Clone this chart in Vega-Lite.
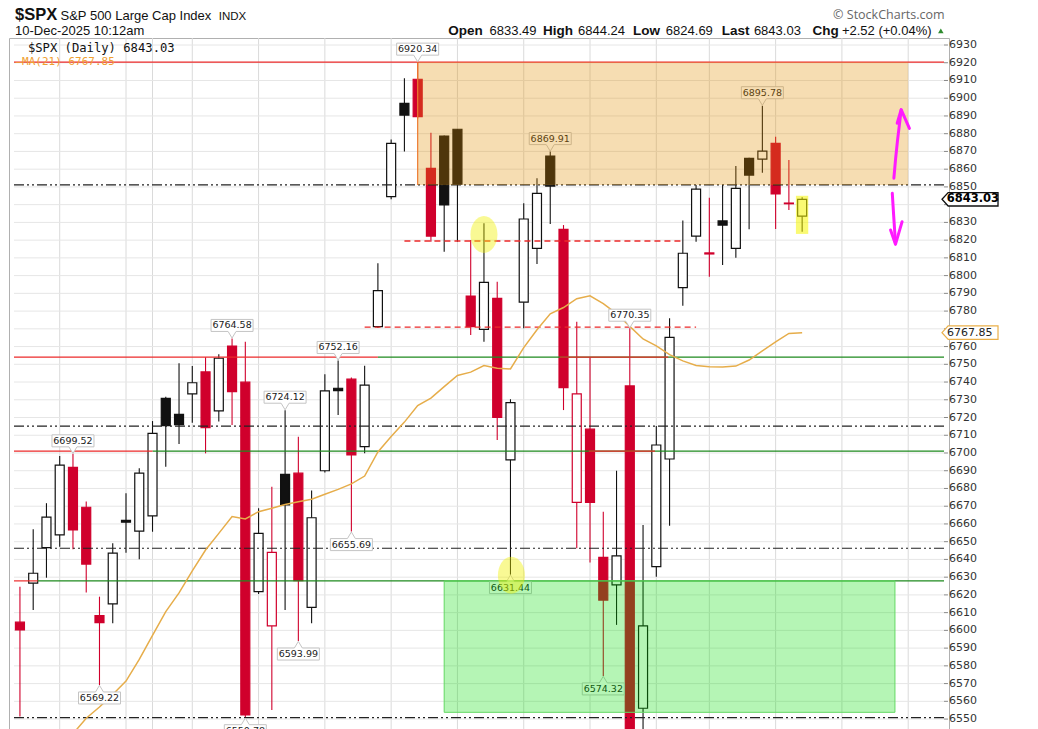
{
  "$schema": "https://vega.github.io/schema/vega-lite/v6.json",
  "width": 940,
  "height": 691,
  "autosize": {"type": "none"},
  "padding": {"left": 9, "top": 38, "right": 89, "bottom": 0},
  "background": "white",
  "config": {
    "view": {"stroke": "#b0b0b0", "strokeWidth": 1},
    "axis": {"disable": true}
  },
  "datasets": {
    "candles": [
      {"d": "2025-09-17", "i": 1, "o": 6604.6, "h": 6624.6, "l": 6551.4, "c": 6600.2},
      {"d": "2025-09-18", "i": 2, "o": 6626.6, "h": 6657.0, "l": 6611.5, "c": 6632.2},
      {"d": "2025-09-19", "i": 3, "o": 6646.6, "h": 6671.7, "l": 6629.7, "c": 6663.8},
      {"d": "2025-09-22", "i": 4, "o": 6653.8, "h": 6698.3, "l": 6647.2, "c": 6693.2, "ma": 6533.0},
      {"d": "2025-09-23", "i": 5, "o": 6691.9, "h": 6699.52, "l": 6645.7, "c": 6656.6, "ma": 6541.7},
      {"d": "2025-09-24", "i": 6, "o": 6669.4, "h": 6672.6, "l": 6621.3, "c": 6637.4, "ma": 6550.5},
      {"d": "2025-09-25", "i": 7, "o": 6608.3, "h": 6619.0, "l": 6569.22, "c": 6604.4, "ma": 6556.8},
      {"d": "2025-09-26", "i": 8, "o": 6614.9, "h": 6649.1, "l": 6604.0, "c": 6643.5, "ma": 6563.9},
      {"d": "2025-09-29", "i": 9, "o": 6662.0, "h": 6677.3, "l": 6643.8, "c": 6661.0, "ma": 6571.4},
      {"d": "2025-09-30", "i": 10, "o": 6656.0, "h": 6691.4, "l": 6640.1, "c": 6688.6, "ma": 6583.6},
      {"d": "2025-10-01", "i": 11, "o": 6664.5, "h": 6718.0, "l": 6655.6, "c": 6711.1, "ma": 6597.2},
      {"d": "2025-10-02", "i": 12, "o": 6730.8, "h": 6731.7, "l": 6692.3, "c": 6715.4, "ma": 6610.6},
      {"d": "2025-10-03", "i": 13, "o": 6721.8, "h": 6750.6, "l": 6705.1, "c": 6716.0, "ma": 6621.1},
      {"d": "2025-10-06", "i": 14, "o": 6733.3, "h": 6749.0, "l": 6717.1, "c": 6739.6, "ma": 6633.5},
      {"d": "2025-10-07", "i": 15, "o": 6745.7, "h": 6754.0, "l": 6699.8, "c": 6714.3, "ma": 6645.3},
      {"d": "2025-10-08", "i": 16, "o": 6723.7, "h": 6755.6, "l": 6717.7, "c": 6753.4, "ma": 6654.7},
      {"d": "2025-10-09", "i": 17, "o": 6760.3, "h": 6764.58, "l": 6715.8, "c": 6734.6, "ma": 6664.2},
      {"d": "2025-10-10", "i": 18, "o": 6739.9, "h": 6762.7, "l": 6550.78, "c": 6552.3, "ma": 6662.8},
      {"d": "2025-10-13", "i": 19, "o": 6621.8, "h": 6668.8, "l": 6620.5, "c": 6654.7, "ma": 6666.9},
      {"d": "2025-10-14", "i": 20, "o": 6602.5, "h": 6681.0, "l": 6555.1, "c": 6644.0, "ma": 6668.9},
      {"d": "2025-10-15", "i": 21, "o": 6688.0, "h": 6724.12, "l": 6611.5, "c": 6670.7, "ma": 6671.0},
      {"d": "2025-10-16", "i": 22, "o": 6688.6, "h": 6709.2, "l": 6593.99, "c": 6628.0, "ma": 6672.5},
      {"d": "2025-10-17", "i": 23, "o": 6613.0, "h": 6678.8, "l": 6604.0, "c": 6663.5, "ma": 6673.9},
      {"d": "2025-10-20", "i": 24, "o": 6690.0, "h": 6744.4, "l": 6689.0, "c": 6735.0, "ma": 6676.7},
      {"d": "2025-10-21", "i": 25, "o": 6736.5, "h": 6752.16, "l": 6721.4, "c": 6735.2, "ma": 6679.5},
      {"d": "2025-10-22", "i": 26, "o": 6741.6, "h": 6742.5, "l": 6655.69, "c": 6698.9, "ma": 6682.6},
      {"d": "2025-10-23", "i": 27, "o": 6703.6, "h": 6749.2, "l": 6699.8, "c": 6738.3, "ma": 6687.0},
      {"d": "2025-10-24", "i": 28, "o": 6771.2, "h": 6806.9, "l": 6770.5, "c": 6791.5, "ma": 6700.6},
      {"d": "2025-10-27", "i": 29, "o": 6844.5, "h": 6876.8, "l": 6843.0, "c": 6874.6, "ma": 6709.3},
      {"d": "2025-10-28", "i": 30, "o": 6897.1, "h": 6911.2, "l": 6869.9, "c": 6890.5, "ma": 6717.4},
      {"d": "2025-10-29", "i": 31, "o": 6910.7, "h": 6920.34, "l": 6888.6, "c": 6889.6, "ma": 6726.7},
      {"d": "2025-10-30", "i": 32, "o": 6860.5, "h": 6880.6, "l": 6819.1, "c": 6822.3, "ma": 6730.9},
      {"d": "2025-10-31", "i": 33, "o": 6878.7, "h": 6879.0, "l": 6813.5, "c": 6839.8, "ma": 6737.4},
      {"d": "2025-11-03", "i": 34, "o": 6882.5, "h": 6882.6, "l": 6819.1, "c": 6851.5, "ma": 6743.7},
      {"d": "2025-11-04", "i": 35, "o": 6788.5, "h": 6820.1, "l": 6766.5, "c": 6771.2, "ma": 6745.6},
      {"d": "2025-11-05", "i": 36, "o": 6769.7, "h": 6829.5, "l": 6762.7, "c": 6796.2, "ma": 6749.3},
      {"d": "2025-11-06", "i": 37, "o": 6787.2, "h": 6796.6, "l": 6707.3, "c": 6720.1, "ma": 6747.8},
      {"d": "2025-11-07", "i": 38, "o": 6696.1, "h": 6730.3, "l": 6631.44, "c": 6728.4, "ma": 6747.4},
      {"d": "2025-11-10", "i": 39, "o": 6785.0, "h": 6840.8, "l": 6770.3, "c": 6831.9, "ma": 6759.4},
      {"d": "2025-11-11", "i": 40, "o": 6815.4, "h": 6854.9, "l": 6806.5, "c": 6846.4, "ma": 6769.5},
      {"d": "2025-11-12", "i": 41, "o": 6867.4, "h": 6869.91, "l": 6829.1, "c": 6850.5, "ma": 6778.5},
      {"d": "2025-11-13", "i": 42, "o": 6826.1, "h": 6828.5, "l": 6724.2, "c": 6736.8, "ma": 6782.0},
      {"d": "2025-11-14", "i": 43, "o": 6672.2, "h": 6774.0, "l": 6646.3, "c": 6733.3, "ma": 6787.0},
      {"d": "2025-11-17", "i": 44, "o": 6713.4, "h": 6754.0, "l": 6638.2, "c": 6672.2, "ma": 6788.6},
      {"d": "2025-11-18", "i": 45, "o": 6641.2, "h": 6666.9, "l": 6574.32, "c": 6617.1, "ma": 6784.2},
      {"d": "2025-11-19", "i": 46, "o": 6625.6, "h": 6690.0, "l": 6603.1, "c": 6642.0, "ma": 6778.6},
      {"d": "2025-11-20", "i": 47, "o": 6737.8, "h": 6770.35, "l": 6535.2, "c": 6538.8, "ma": 6771.4},
      {"d": "2025-11-21", "i": 48, "o": 6556.1, "h": 6659.4, "l": 6521.9, "c": 6602.5, "ma": 6764.3},
      {"d": "2025-11-24", "i": 49, "o": 6635.9, "h": 6715.2, "l": 6630.3, "c": 6704.5, "ma": 6760.4},
      {"d": "2025-11-25", "i": 50, "o": 6696.6, "h": 6775.9, "l": 6659.0, "c": 6765.2, "ma": 6755.4},
      {"d": "2025-11-26", "i": 51, "o": 6793.2, "h": 6831.0, "l": 6783.0, "c": 6812.6, "ma": 6751.9},
      {"d": "2025-11-28", "i": 52, "o": 6822.3, "h": 6851.1, "l": 6819.1, "c": 6848.7, "ma": 6749.3},
      {"d": "2025-12-01", "i": 53, "o": 6812.8, "h": 6843.9, "l": 6799.4, "c": 6812.2, "ma": 6748.6},
      {"d": "2025-12-02", "i": 54, "o": 6830.8, "h": 6851.1, "l": 6806.0, "c": 6828.5, "ma": 6748.5},
      {"d": "2025-12-03", "i": 55, "o": 6815.4, "h": 6861.8, "l": 6810.1, "c": 6849.2, "ma": 6749.0},
      {"d": "2025-12-04", "i": 56, "o": 6866.1, "h": 6866.5, "l": 6826.1, "c": 6856.7, "ma": 6752.4},
      {"d": "2025-12-05", "i": 57, "o": 6865.7, "h": 6895.78, "l": 6858.0, "c": 6870.2, "ma": 6757.5},
      {"d": "2025-12-08", "i": 58, "o": 6874.6, "h": 6878.3, "l": 6826.3, "c": 6846.0, "ma": 6762.6},
      {"d": "2025-12-09", "i": 59, "o": 6840.9, "h": 6865.2, "l": 6837.0, "c": 6840.51, "ma": 6767.4},
      {"d": "2025-12-10", "i": 60, "o": 6833.49, "h": 6844.24, "l": 6824.69, "c": 6843.03, "ma": 6767.85}
    ],
    "yticks": [
      {"v": 6550}, {"v": 6560}, {"v": 6570}, {"v": 6580}, {"v": 6590}, {"v": 6600}, {"v": 6610}, {"v": 6620}, {"v": 6630}, {"v": 6640},
      {"v": 6650}, {"v": 6660}, {"v": 6670}, {"v": 6680}, {"v": 6690}, {"v": 6700}, {"v": 6710}, {"v": 6720}, {"v": 6730}, {"v": 6740},
      {"v": 6750}, {"v": 6760}, {"v": 6770}, {"v": 6780}, {"v": 6790}, {"v": 6800}, {"v": 6810}, {"v": 6820}, {"v": 6830}, {"v": 6840},
      {"v": 6850}, {"v": 6860}, {"v": 6870}, {"v": 6880}, {"v": 6890}, {"v": 6900}, {"v": 6910}, {"v": 6920}, {"v": 6930}
    ],
    "xgrid": [
      {"i": 4}, {"i": 9}, {"i": 11}, {"i": 14}, {"i": 19}, {"i": 24}, {"i": 29}, {"i": 34}, {"i": 39}, {"i": 44}, {"i": 49}, {"i": 53}, {"i": 58}, {"i": 63}, {"i": 68}
    ],
    "hlines": [
      {"kind": "support", "v": 6754.0, "i1": 28.0, "i2": 70.7},
      {"kind": "support", "v": 6701.1, "i1": 11.0, "i2": 70.7},
      {"kind": "support", "v": 6627.9, "i1": 2.35, "i2": 70.7},
      {"kind": "resistance", "v": 6920.34, "i1": 0.552, "i2": 70.7},
      {"kind": "resistance", "v": 6754.0, "i1": 0.552, "i2": 28.0},
      {"kind": "resistance", "v": 6754.0, "i1": 41.7, "i2": 49.9},
      {"kind": "resistance", "v": 6701.1, "i1": 0.552, "i2": 11.0},
      {"kind": "resistance", "v": 6701.1, "i1": 43.9, "i2": 48.9},
      {"kind": "resistance", "v": 6627.9, "i1": 0.552, "i2": 2.35},
      {"kind": "pivot", "v": 6851.1, "i1": 0.552, "i2": 70.7},
      {"kind": "pivot", "v": 6715.2, "i1": 0.552, "i2": 70.7},
      {"kind": "pivot", "v": 6646.3, "i1": 0.552, "i2": 70.7},
      {"kind": "pivot", "v": 6550.8, "i1": 0.552, "i2": 70.7},
      {"kind": "level", "v": 6819.5, "i1": 30.0, "i2": 51.0},
      {"kind": "level", "v": 6770.9, "i1": 27.0, "i2": 52.0}
    ],
    "zones": [
      {"kind": "orange", "i1": 31, "i2": 68, "v1": 6851.1, "v2": 6920.34},
      {"kind": "green", "i1": 33, "i2": 67, "v1": 6553.8, "v2": 6627.9}
    ],
    "plabels": [
      {"i": 5, "p": 6699.52, "pos": "above"},
      {"i": 17, "p": 6764.58, "pos": "above"},
      {"i": 21, "p": 6724.12, "pos": "above"},
      {"i": 25, "p": 6752.16, "pos": "above"},
      {"i": 31, "p": 6920.34, "pos": "above"},
      {"i": 41, "p": 6869.91, "pos": "above"},
      {"i": 47, "p": 6770.35, "pos": "above"},
      {"i": 57, "p": 6895.78, "pos": "above"},
      {"i": 7, "p": 6569.22, "pos": "below"},
      {"i": 18, "p": 6550.78, "pos": "below"},
      {"i": 22, "p": 6593.99, "pos": "below"},
      {"i": 26, "p": 6655.69, "pos": "below"},
      {"i": 38, "p": 6631.44, "pos": "below"},
      {"i": 45, "p": 6574.32, "pos": "below"}
    ],
    "arrows": [
      {"seg": "up", "ord": 1, "i": 66.92, "v": 6854.9},
      {"seg": "up", "ord": 2, "i": 67.05, "v": 6866.0},
      {"seg": "up", "ord": 3, "i": 67.19, "v": 6876.0},
      {"seg": "up", "ord": 4, "i": 67.47, "v": 6893.4},
      {"seg": "uphead", "ord": 1, "i": 67.17, "v": 6885.9},
      {"seg": "uphead", "ord": 2, "i": 67.47, "v": 6893.6},
      {"seg": "uphead", "ord": 3, "i": 68.09, "v": 6883.0},
      {"seg": "down", "ord": 1, "i": 66.8, "v": 6846.4},
      {"seg": "down", "ord": 2, "i": 66.9, "v": 6834.2},
      {"seg": "down", "ord": 3, "i": 67.04, "v": 6818.4},
      {"seg": "downhead", "ord": 1, "i": 66.67, "v": 6825.7},
      {"seg": "downhead", "ord": 2, "i": 67.04, "v": 6817.6},
      {"seg": "downhead", "ord": 3, "i": 67.54, "v": 6830.4}
    ],
    "tags": [
      {"kind": "last", "p": 6843.03},
      {"kind": "ma", "p": 6767.85}
    ]
  },
  "layer": [
    {
      "data": {"name": "xgrid"},
      "mark": {"type": "rule", "color": "#dadada", "strokeWidth": 1},
      "encoding": {
        "x": {"field": "i", "type": "quantitative", "scale": {"domain": [0.552, 70.7], "nice": false, "zero": false}},
        "y": {"datum": 6544.4, "type": "quantitative", "scale": {"domain": [6544.4, 6933.95], "nice": false, "zero": false}},
        "y2": {"datum": 6933.95}
      }
    },
    {
      "data": {"name": "yticks"},
      "mark": {"type": "rule", "color": "#e6e6e6", "strokeWidth": 1},
      "encoding": {
        "x": {"datum": 0.552, "type": "quantitative"},
        "x2": {"datum": 70.7},
        "y": {"field": "v", "type": "quantitative"}
      }
    },
    {
      "data": {"name": "candles"},
      "transform": [
        {"window": [{"op": "lag", "field": "c", "as": "pc"}], "sort": [{"field": "i", "order": "ascending"}]},
        {"calculate": "datum.pc != null && datum.c >= datum.pc ? 'up' : 'down'", "as": "dir"},
        {"calculate": "datum.c > datum.o ? 'hollow' : datum.dir", "as": "body"}
      ],
      "layer": [
        {
          "mark": {"type": "rule", "strokeWidth": 1.1},
          "encoding": {
            "x": {"field": "i", "type": "quantitative"},
            "y": {"field": "l", "type": "quantitative"},
            "y2": {"field": "h"},
            "color": {"field": "dir", "type": "nominal", "scale": {"domain": ["up", "down"], "range": ["#111111", "#d0002c"]}, "legend": null}
          }
        },
        {
          "mark": {"type": "bar", "width": 9, "strokeWidth": 1.2},
          "encoding": {
            "x": {"field": "i", "type": "quantitative"},
            "y": {"field": "o", "type": "quantitative"},
            "y2": {"field": "c"},
            "fill": {"field": "body", "type": "nominal", "scale": {"domain": ["hollow", "up", "down"], "range": ["#ffffff", "#111111", "#d0002c"]}, "legend": null},
            "stroke": {"field": "dir", "type": "nominal", "scale": {"domain": ["up", "down"], "range": ["#111111", "#d0002c"]}, "legend": null}
          }
        }
      ]
    },
    {
      "data": {"name": "hlines"},
      "transform": [{"filter": "datum.kind == 'support'"}],
      "mark": {"type": "rule", "color": "#1e8a1e", "strokeWidth": 1.2},
      "encoding": {"x": {"field": "i1", "type": "quantitative"}, "x2": {"field": "i2"}, "y": {"field": "v", "type": "quantitative"}}
    },
    {
      "data": {"name": "hlines"},
      "transform": [{"filter": "datum.kind == 'resistance'"}],
      "mark": {"type": "rule", "color": "#ec2a2a", "strokeWidth": 1.2},
      "encoding": {"x": {"field": "i1", "type": "quantitative"}, "x2": {"field": "i2"}, "y": {"field": "v", "type": "quantitative"}}
    },
    {
      "data": {"name": "hlines"},
      "transform": [{"filter": "datum.kind == 'pivot'"}],
      "mark": {"type": "rule", "color": "#222222", "strokeWidth": 1.2, "strokeDash": [10, 3, 2, 3, 2, 3]},
      "encoding": {"x": {"field": "i1", "type": "quantitative"}, "x2": {"field": "i2"}, "y": {"field": "v", "type": "quantitative"}}
    },
    {
      "data": {"name": "hlines"},
      "transform": [{"filter": "datum.kind == 'level'"}],
      "mark": {"type": "rule", "color": "#ec2a2a", "strokeWidth": 1.3, "strokeDash": [6, 4]},
      "encoding": {"x": {"field": "i1", "type": "quantitative"}, "x2": {"field": "i2"}, "y": {"field": "v", "type": "quantitative"}}
    },
    {
      "data": {"name": "candles"},
      "mark": {"type": "line", "color": "#e6ad4a", "strokeWidth": 1.5, "clip": true},
      "encoding": {"x": {"field": "i", "type": "quantitative"}, "y": {"field": "ma", "type": "quantitative"}}
    },
    {
      "data": {"name": "plabels"},
      "transform": [{"filter": "datum.pos == 'above'"}],
      "mark": {"type": "point", "shape": "M-1,-0.286L1,-0.286L1,0.286L0.19,0.286L0,0.6L-0.19,0.286L-1,0.286Z", "size": 1764, "filled": true, "fill": "#ffffff", "stroke": "#c4c4c4", "strokeWidth": 1, "opacity": 1, "yOffset": -13},
      "encoding": {"x": {"field": "i", "type": "quantitative"}, "y": {"field": "p", "type": "quantitative"}}
    },
    {
      "data": {"name": "plabels"},
      "transform": [{"filter": "datum.pos == 'below'"}],
      "mark": {"type": "point", "shape": "M-1,0.286L1,0.286L1,-0.286L0.19,-0.286L0,-0.6L-0.19,-0.286L-1,-0.286Z", "size": 1764, "filled": true, "fill": "#ffffff", "stroke": "#c4c4c4", "strokeWidth": 1, "opacity": 1, "yOffset": 13},
      "encoding": {"x": {"field": "i", "type": "quantitative"}, "y": {"field": "p", "type": "quantitative"}}
    },
    {
      "data": {"name": "plabels"},
      "transform": [{"filter": "datum.pos == 'above'"}],
      "mark": {"type": "text", "font": "DejaVu Sans", "fontSize": 9.5, "color": "#1a1a1a", "align": "center", "baseline": "middle", "dy": -13},
      "encoding": {"x": {"field": "i", "type": "quantitative"}, "y": {"field": "p", "type": "quantitative"}, "text": {"field": "p", "type": "quantitative", "format": ".2f"}}
    },
    {
      "data": {"name": "plabels"},
      "transform": [{"filter": "datum.pos == 'below'"}],
      "mark": {"type": "text", "font": "DejaVu Sans", "fontSize": 9.5, "color": "#1a1a1a", "align": "center", "baseline": "middle", "dy": 13},
      "encoding": {"x": {"field": "i", "type": "quantitative"}, "y": {"field": "p", "type": "quantitative"}, "text": {"field": "p", "type": "quantitative", "format": ".2f"}}
    },
    {
      "data": {"name": "zones"},
      "transform": [{"filter": "datum.kind == 'orange'"}],
      "mark": {"type": "rect", "fill": "#e18e00", "fillOpacity": 0.3},
      "encoding": {"x": {"field": "i1", "type": "quantitative"}, "x2": {"field": "i2"}, "y": {"field": "v1", "type": "quantitative"}, "y2": {"field": "v2"}}
    },
    {
      "data": {"name": "zones"},
      "transform": [{"filter": "datum.kind == 'orange'"}],
      "mark": {"type": "rule", "color": "#ec7a30", "strokeWidth": 1.2},
      "encoding": {"x": {"field": "i1", "type": "quantitative"}, "y": {"field": "v1", "type": "quantitative"}, "y2": {"field": "v2"}}
    },
    {
      "data": {"name": "zones"},
      "transform": [{"filter": "datum.kind == 'green'"}],
      "mark": {"type": "rect", "fill": "#00dc00", "fillOpacity": 0.29, "stroke": "#62d862", "strokeWidth": 1},
      "encoding": {"x": {"field": "i1", "type": "quantitative"}, "x2": {"field": "i2"}, "y": {"field": "v1", "type": "quantitative"}, "y2": {"field": "v2"}}
    },
    {
      "data": {"values": [{"i1": 59.53, "i2": 60.46, "v1": 6823.5, "v2": 6845.0}]},
      "mark": {"type": "rect", "fill": "#f5f500", "fillOpacity": 0.55},
      "encoding": {"x": {"field": "i1", "type": "quantitative"}, "x2": {"field": "i2"}, "y": {"field": "v1", "type": "quantitative"}, "y2": {"field": "v2"}}
    },
    {
      "data": {"values": [{"i": 36.0, "v": 6823.2}, {"i": 38.07, "v": 6631.1}]},
      "mark": {"type": "point", "shape": "M0,-1C0.403,-1 0.73,-0.552 0.73,0C0.73,0.552 0.403,1 0,1C-0.403,1 -0.73,0.552 -0.73,0C-0.73,-0.552 -0.403,-1 0,-1Z", "size": 1369, "filled": true, "fill": "#f0f000", "opacity": 0.42, "strokeWidth": 0},
      "encoding": {"x": {"field": "i", "type": "quantitative"}, "y": {"field": "v", "type": "quantitative"}}
    },
    {
      "data": {"name": "arrows"},
      "mark": {"type": "line", "color": "#ff1aff", "strokeWidth": 3, "strokeCap": "round", "strokeJoin": "round"},
      "encoding": {"x": {"field": "i", "type": "quantitative"}, "y": {"field": "v", "type": "quantitative"}, "detail": {"field": "seg"}, "order": {"field": "ord", "type": "quantitative"}}
    },
    {
      "data": {"name": "yticks"},
      "mark": {"type": "rule", "color": "#888888", "strokeWidth": 1},
      "encoding": {"x": {"datum": 70.7, "type": "quantitative"}, "x2": {"datum": 71.0}, "y": {"field": "v", "type": "quantitative"}}
    },
    {
      "data": {"name": "yticks"},
      "transform": [{"filter": "datum.v != 6840 && datum.v != 6770"}],
      "mark": {"type": "text", "font": "DejaVu Sans", "fontSize": 11, "color": "#333", "align": "left", "baseline": "middle", "dx": 1},
      "encoding": {"x": {"datum": 71.0, "type": "quantitative"}, "y": {"field": "v", "type": "quantitative"}, "text": {"field": "v", "type": "quantitative", "format": "d"}}
    },
    {
      "data": {"name": "tags"},
      "transform": [{"filter": "datum.kind == 'ma'"}],
      "mark": {"type": "point", "shape": "M0,0L0.22,-0.24L2,-0.24L2,0.24L0.22,0.24Z", "size": 3136, "filled": true, "fill": "#ffffff", "stroke": "#eab04a", "strokeWidth": 1.2, "opacity": 1},
      "encoding": {"x": {"datum": 70.55, "type": "quantitative"}, "y": {"field": "p", "type": "quantitative"}}
    },
    {
      "data": {"name": "tags"},
      "transform": [{"filter": "datum.kind == 'last'"}],
      "mark": {"type": "point", "shape": "M0,0L0.22,-0.24L2,-0.24L2,0.24L0.22,0.24Z", "size": 3136, "filled": true, "fill": "#ffffff", "stroke": "#111111", "strokeWidth": 1.3, "opacity": 1},
      "encoding": {"x": {"datum": 70.55, "type": "quantitative"}, "y": {"field": "p", "type": "quantitative"}}
    },
    {
      "data": {"name": "tags"},
      "transform": [{"filter": "datum.kind == 'ma'"}],
      "mark": {"type": "text", "font": "DejaVu Sans", "fontSize": 11, "color": "#222", "align": "left", "baseline": "middle"},
      "encoding": {"x": {"datum": 70.93, "type": "quantitative"}, "y": {"field": "p", "type": "quantitative"}, "text": {"field": "p", "type": "quantitative", "format": ".2f"}}
    },
    {
      "data": {"name": "tags"},
      "transform": [{"filter": "datum.kind == 'last'"}],
      "mark": {"type": "text", "font": "DejaVu Sans", "fontSize": 11.5, "fontWeight": "bold", "color": "#000", "align": "left", "baseline": "middle"},
      "encoding": {"x": {"datum": 70.9, "type": "quantitative"}, "y": {"field": "p", "type": "quantitative"}, "text": {"field": "p", "type": "quantitative", "format": ".2f"}}
    },
    {
      "data": {"values": [{"t": "$SPX", "i": 0.627, "v": 6944.1}]},
      "mark": {"type": "text", "font": "Liberation Sans", "fontSize": 16.5, "fontWeight": "bold", "color": "#111", "align": "left", "baseline": "alphabetic"},
      "encoding": {"x": {"field": "i", "type": "quantitative"}, "y": {"field": "v", "type": "quantitative"}, "text": {"field": "t"}}
    },
    {
      "data": {"values": [{"t": "S&P 500 Large Cap Index", "i": 4.06, "v": 6944.3}]},
      "mark": {"type": "text", "font": "Liberation Sans", "fontSize": 13, "color": "#111", "align": "left", "baseline": "alphabetic"},
      "encoding": {"x": {"field": "i", "type": "quantitative"}, "y": {"field": "v", "type": "quantitative"}, "text": {"field": "t"}}
    },
    {
      "data": {"values": [{"t": "INDX", "i": 16.0, "v": 6944.3}]},
      "mark": {"type": "text", "font": "Liberation Sans", "fontSize": 11.5, "color": "#111", "align": "left", "baseline": "alphabetic"},
      "encoding": {"x": {"field": "i", "type": "quantitative"}, "y": {"field": "v", "type": "quantitative"}, "text": {"field": "t"}}
    },
    {
      "data": {"values": [{"t": "10-Dec-2025 10:12am", "i": 0.627, "v": 6935.4}]},
      "mark": {"type": "text", "font": "Liberation Sans", "fontSize": 13, "color": "#111", "align": "left", "baseline": "alphabetic"},
      "encoding": {"x": {"field": "i", "type": "quantitative"}, "y": {"field": "v", "type": "quantitative"}, "text": {"field": "t"}}
    },
    {
      "data": {"values": [
        {"t": "Open", "i": 33.31, "v": 6935.4},
        {"t": "High", "i": 40.45, "v": 6935.4},
        {"t": "Low", "i": 47.25, "v": 6935.4},
        {"t": "Last", "i": 53.94, "v": 6935.4},
        {"t": "Chg", "i": 60.78, "v": 6935.4}
      ]},
      "mark": {"type": "text", "font": "Liberation Sans", "fontSize": 13.5, "fontWeight": "bold", "color": "#111", "align": "left", "baseline": "alphabetic"},
      "encoding": {"x": {"field": "i", "type": "quantitative"}, "y": {"field": "v", "type": "quantitative"}, "text": {"field": "t"}}
    },
    {
      "data": {"values": [
        {"t": "6833.49", "i": 36.42, "v": 6935.4},
        {"t": "6844.24", "i": 43.1, "v": 6935.4},
        {"t": "6824.69", "i": 49.72, "v": 6935.4},
        {"t": "6843.03", "i": 56.36, "v": 6935.4},
        {"t": "+2.52 (+0.04%)", "i": 63.0, "v": 6935.4}
      ]},
      "mark": {"type": "text", "font": "Liberation Sans", "fontSize": 13, "color": "#111", "align": "left", "baseline": "alphabetic"},
      "encoding": {"x": {"field": "i", "type": "quantitative"}, "y": {"field": "v", "type": "quantitative"}, "text": {"field": "t"}}
    },
    {
      "data": {"values": [{"i": 70.46, "v": 6937.9}]},
      "mark": {"type": "point", "shape": "triangle-up", "size": 30, "filled": true, "color": "#2e8b2e", "opacity": 1},
      "encoding": {"x": {"field": "i", "type": "quantitative"}, "y": {"field": "v", "type": "quantitative"}}
    },
    {
      "data": {"values": [{"t": "© StockCharts.com", "i": 70.74, "v": 6944.7}]},
      "mark": {"type": "text", "font": "Open Sans", "fontSize": 12.5, "color": "#666", "align": "right", "baseline": "alphabetic"},
      "encoding": {"x": {"field": "i", "type": "quantitative"}, "y": {"field": "v", "type": "quantitative"}, "text": {"field": "t"}}
    },
    {
      "data": {"values": [{"t": "$SPX (Daily) 6843.03", "i": 1.6, "v": 6926.05}]},
      "mark": {"type": "text", "font": "DejaVu Sans Mono", "fontSize": 12.2, "color": "#111", "align": "left", "baseline": "alphabetic"},
      "encoding": {"x": {"field": "i", "type": "quantitative"}, "y": {"field": "v", "type": "quantitative"}, "text": {"field": "t"}}
    },
    {
      "data": {"values": [{"t": "—MA(21) 6767.85", "i": 0.66, "v": 6918.7}]},
      "mark": {"type": "text", "font": "DejaVu Sans Mono", "fontSize": 11, "color": "#f0a030", "align": "left", "baseline": "alphabetic"},
      "encoding": {"x": {"field": "i", "type": "quantitative"}, "y": {"field": "v", "type": "quantitative"}, "text": {"field": "t"}}
    }
  ]
}
